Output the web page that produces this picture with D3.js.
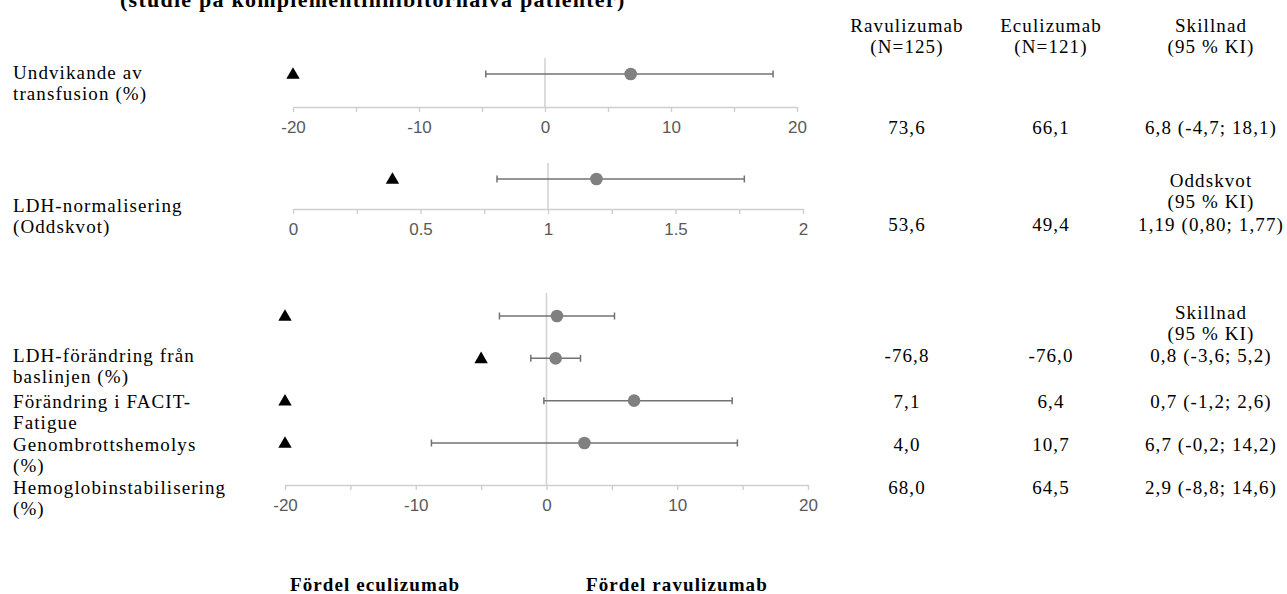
<!DOCTYPE html>
<html>
<head>
<meta charset="utf-8">
<script src="https://cdnjs.cloudflare.com/ajax/libs/d3/7.8.5/d3.min.js"></script>
<style>
  body { margin: 0; background: #fff; }
  .serif { font-family: "Liberation Serif", "Times New Roman", serif; font-size: 19px; letter-spacing: 1.1px; fill: #000; }
  .bold { font-weight: bold; }
  .tick text { font-family: "Liberation Sans", Arial, sans-serif; font-size: 17px; fill: #595959; letter-spacing: 0; }
</style>
</head>
<body>
<div id="chart"></div>
<script>
// data
var labels = [
  ["Undvikande av", "transfusion (%)"],
  ["LDH-normalisering", "(Oddskvot)"],
  ["LDH-förändring från", "baslinjen (%)"],
  ["Förändring i FACIT-", "Fatigue"],
  ["Genombrottshemolys", "(%)"],
  ["Hemoglobinstabilisering", "(%)"]
];
var estimate = [6.8, 1.19, 0.8, 0.7, 6.7, 2.9];
var ciLow    = [-4.7, 0.80, -3.6, -1.2, -0.2, -8.8];
var ciHigh   = [18.1, 1.77, 5.2, 2.6, 14.2, 14.6];
var niMargin = [-20, 0.39, -20, -5, -20, -20];
var decimals = [1, 2, 1, 1, 1, 1];
var ravulizumab = ["73,6", "53,6", "-76,8", "7,1", "4,0", "68,0"];
var eculizumab  = ["66,1", "49,4", "-76,0", "6,4", "10,7", "64,5"];
var diffTicks = d3.range(-20, 21, 5);
var oddsTicks = d3.range(0, 2.01, 0.25);

// layout
var width = 1287, height = 594;
var labelX = 13, lineGap = 21.7;
var labelY = [72, 205, 355, 401, 444, 487];
var valueY = [127, 224, 355, 401, 444, 487];
var colX = [907, 1051, 1211];

var svg = d3.select("#chart").append("svg")
    .attr("width", width)
    .attr("height", height);

// panels
var panels = [
  { rows: [0], domain: [-20, 20], range: [293, 797], axisY: 107, rowY: [74, 74], refTop: 58, ref: 0, ticks: diffTicks, labelStep: 10 },
  { rows: [1], domain: [0, 2], range: [293, 803], axisY: 209, rowY: [179, 179], refTop: 163, ref: 1, ticks: oddsTicks, labelStep: 0.5 },
  { rows: [2, 3, 4, 5], domain: [-20, 20], range: [285, 808], axisY: 485, rowY: [316, 443], refTop: 293, ref: 0, ticks: diffTicks, labelStep: 10 }
];

panels.forEach(function(p) {
  var x = d3.scaleLinear().domain(p.domain).range(p.range);
  var y = d3.scalePoint().domain(p.rows).range(p.rowY);
  var g = svg.append("g");

  // reference line
  g.append("line")
    .attr("x1", x(p.ref)).attr("x2", x(p.ref))
    .attr("y1", p.refTop).attr("y2", p.axisY)
    .style("stroke", "#d4d4d4").style("stroke-width", 1.6);

  var axis = d3.axisBottom(x)
    .tickValues(p.ticks)
    .tickSize(5)
    .tickSizeOuter(0)
    .tickPadding(9)
    .tickFormat(function(d) {
      var r = d / p.labelStep;
      return Math.abs(r - Math.round(r)) < 1e-9 ? String(+d.toFixed(2)) : "";
    });
  var ax = g.append("g")
    .attr("transform", "translate(0," + p.axisY + ")")
    .call(axis);
  ax.select(".domain").style("stroke", "#cfcfcf").style("stroke-width", 1.4);
  ax.selectAll(".tick line").style("stroke", "#cfcfcf").style("stroke-width", 1.4);

  // confidence intervals
  var rows = g.selectAll(".row").data(p.rows).enter().append("g");
  rows.append("line")
    .attr("x1", function(i) { return x(ciLow[i]); })
    .attr("x2", function(i) { return x(ciHigh[i]); })
    .attr("y1", function(i) { return y(i); })
    .attr("y2", function(i) { return y(i); })
    .style("stroke", "#727272").style("stroke-width", 1.5);
  [ciLow, ciHigh].forEach(function(arr) {
    rows.append("line")
      .attr("x1", function(i) { return x(arr[i]); })
      .attr("x2", function(i) { return x(arr[i]); })
      .attr("y1", function(i) { return y(i) - 3.5; })
      .attr("y2", function(i) { return y(i) + 3.5; })
      .style("stroke", "#727272").style("stroke-width", 1.5);
  });
  rows.append("circle")
    .attr("cx", function(i) { return x(estimate[i]); })
    .attr("cy", function(i) { return y(i); })
    .attr("r", 6.3)
    .style("fill", "#808080");
  rows.append("path")
    .attr("d", d3.symbol().type(d3.symbolTriangle).size(78))
    .attr("transform", function(i) { return "translate(" + x(niMargin[i]) + "," + (y(i) + 1) + ")"; })
    .style("fill", "#000");
});

// title (cut at the top edge)
svg.append("text")
  .attr("class", "serif bold")
  .attr("x", 120).attr("y", 7)
  .style("font-size", "22px")
  .style("letter-spacing", "1.25px")
  .text("(studie på komplementinhibitornaiva patienter)");

// row labels
labels.forEach(function(lines, i) {
  var t = svg.append("text").attr("class", "serif");
  lines.forEach(function(s, j) {
    t.append("tspan")
      .attr("x", labelX)
      .attr("y", labelY[i] + 6.5 + j * lineGap)
      .text(s);
  });
});

// table headers
function fmt(v, d) { return v.toFixed(d).replace(".", ","); }
var headers = [
  { x: colX[0], y: 25, lines: ["Ravulizumab", "(N=125)"] },
  { x: colX[1], y: 25, lines: ["Eculizumab", "(N=121)"] },
  { x: colX[2], y: 25, lines: ["Skillnad", "(95 % KI)"] },
  { x: colX[2], y: 180, lines: ["Oddskvot", "(95 % KI)"] },
  { x: colX[2], y: 312, lines: ["Skillnad", "(95 % KI)"] }
];
headers.forEach(function(h) {
  var t = svg.append("text").attr("class", "serif").attr("text-anchor", "middle");
  h.lines.forEach(function(s, j) {
    t.append("tspan").attr("x", h.x).attr("y", h.y + 6.5 + j * lineGap).text(s);
  });
});

// table values
labels.forEach(function(l, i) {
  var cells = [ravulizumab[i], eculizumab[i],
    fmt(estimate[i], decimals[i]) + " (" + fmt(ciLow[i], decimals[i]) + "; " + fmt(ciHigh[i], decimals[i]) + ")"];
  cells.forEach(function(s, c) {
    svg.append("text").attr("class", "serif")
      .attr("text-anchor", "middle")
      .attr("x", colX[c]).attr("y", valueY[i] + 6.5)
      .text(s);
  });
});

// favour labels
svg.append("text").attr("class", "serif bold")
  .attr("x", 290).attr("y", 591).text("Fördel eculizumab");
svg.append("text").attr("class", "serif bold")
  .attr("x", 586).attr("y", 591).text("Fördel ravulizumab");
</script>
</body>
</html>
